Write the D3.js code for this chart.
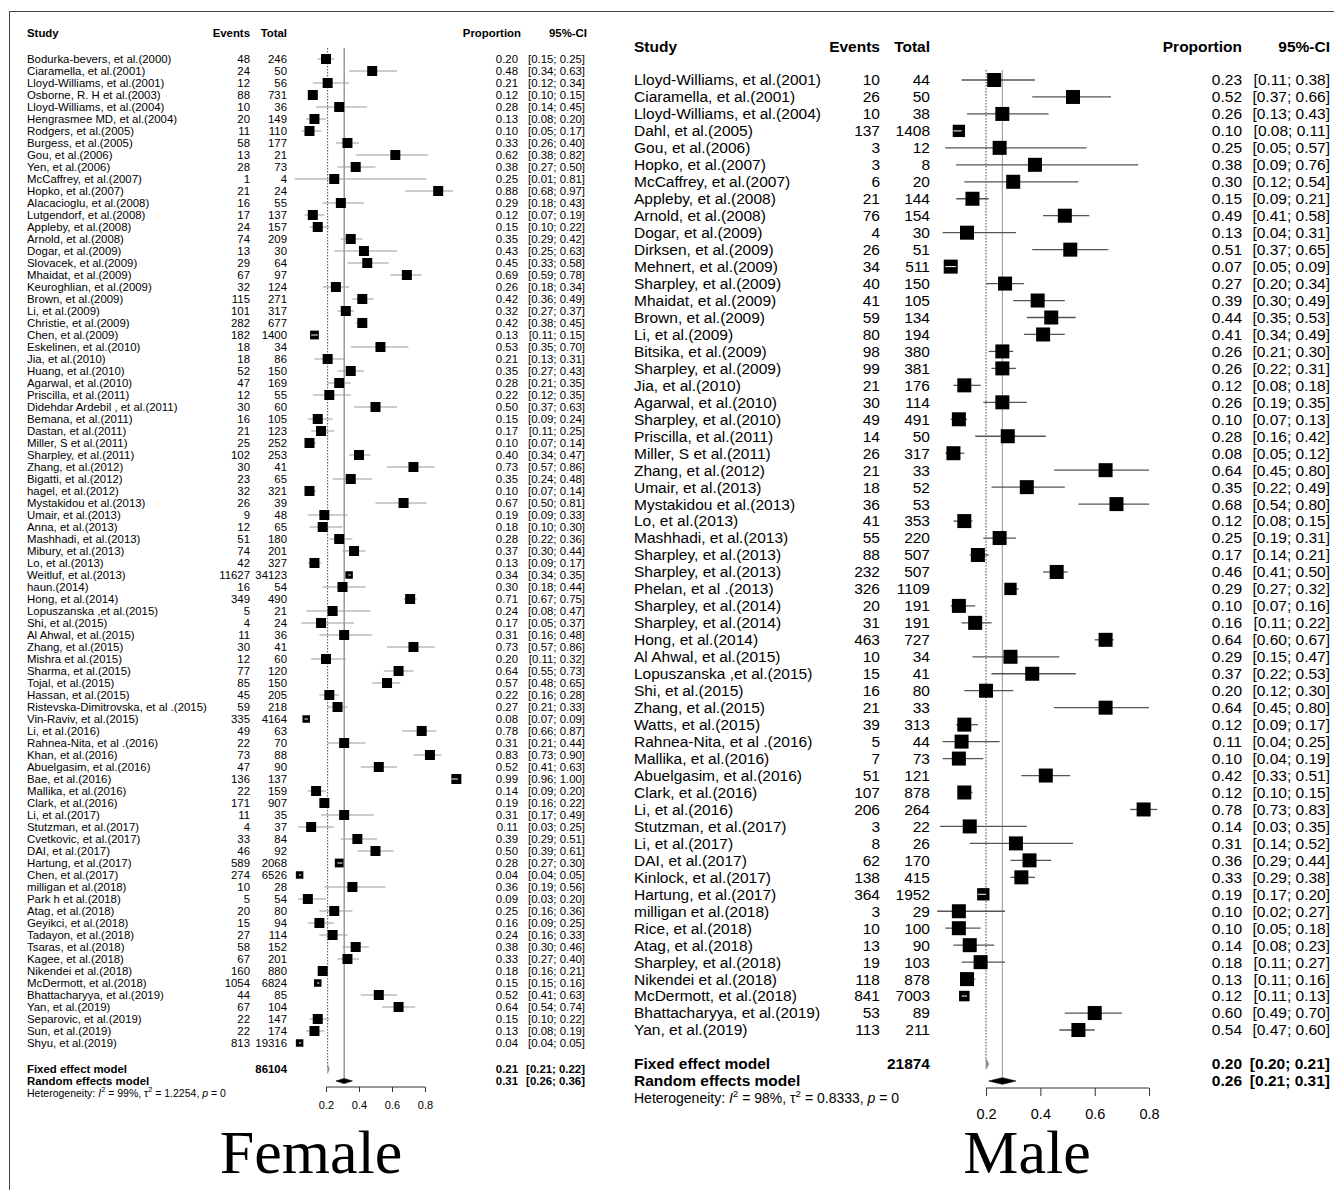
<!DOCTYPE html>
<html>
<head>
<meta charset="utf-8">
<script src="https://cdn.jsdelivr.net/npm/d3@7"></script>
<style>
  html, body { margin: 0; padding: 0; background: #fff; }
  text { font-family: "Liberation Sans", Arial, sans-serif; fill: #000; }
</style>
</head>
<body>
<svg id="chart" width="1334" height="1190"></svg>
<script>
// ---------- data: female ----------
const femaleStudies = [
  "Bodurka-bevers, et al.(2000)", "Ciaramella, et al.(2001)", "Lloyd-Williams, et al.(2001)",
  "Osborne, R. H et al.(2003)", "Lloyd-Williams, et al.(2004)", "Hengrasmee MD, et al.(2004)",
  "Rodgers, et al.(2005)", "Burgess, et al.(2005)", "Gou, et al.(2006)", "Yen, et al.(2006)",
  "McCaffrey, et al.(2007)", "Hopko, et al.(2007)", "Alacacioglu, et al.(2008)",
  "Lutgendorf,  et al.(2008)", "Appleby, et al.(2008)", "Arnold, et al.(2008)", "Dogar, et al.(2009)",
  "Slovacek, et al.(2009)", "Mhaidat, et al.(2009)", "Keuroghlian, et al.(2009)", "Brown, et al.(2009)",
  "Li, et al.(2009)", "Christie, et al.(2009)", "Chen, et al.(2009)", "Eskelinen, et al.(2010)",
  "Jia, et al.(2010)", "Huang, et al.(2010)", "Agarwal, et al.(2010)", "Priscilla, et al.(2011)",
  "Didehdar Ardebil , et al.(2011)", "Bemana, et al.(2011)", "Dastan, et al.(2011)",
  "Miller, S et al.(2011)", "Sharpley, et al.(2011)", "Zhang, et al.(2012)", "Bigatti, et al.(2012)",
  "hagel, et al.(2012)", "Mystakidou et al.(2013)", "Umair, et al.(2013)", "Anna, et al.(2013)",
  "Mashhadi, et al.(2013)", "Mibury, et al.(2013)", "Lo, et al.(2013)", "Weitluf, et al.(2013)",
  "haun.(2014)", "Hong, et al.(2014)", "Lopuszanska ,et al.(2015)", "Shi, et al.(2015)",
  "Al Ahwal, et al.(2015)", "Zhang, et al.(2015)", "Mishra et al.(2015)", "Sharma, et al.(2015)",
  "Tojal, et al.(2015)", "Hassan, et al.(2015)", "Ristevska-Dimitrovska, et al .(2015)",
  "Vin-Raviv, et al.(2015)", "Li, et al.(2016)", "Rahnea-Nita, et al .(2016)", "Khan, et al.(2016)",
  "Abuelgasim, et al.(2016)", "Bae, et al.(2016)", "Mallika, et al.(2016)", "Clark, et al.(2016)",
  "Li, et al.(2017)", "Stutzman, et al.(2017)", "Cvetkovic, et al.(2017)", "DAI, et al.(2017)",
  "Hartung, et al.(2017)", "Chen, et al.(2017)", "milligan et al.(2018)", "Park h et al.(2018)",
  "Atag, et al.(2018)", "Geyikci, et al.(2018)", "Tadayon, et al.(2018)", "Tsaras, et al.(2018)",
  "Kagee, et al.(2018)", "Nikendei et al.(2018)", "McDermott, et al.(2018)",
  "Bhattacharyya, et al.(2019)", "Yan, et al.(2019)", "Separovic, et al.(2019)", "Sun, et al.(2019)",
  "Shyu, et al.(2019)"
];
const femaleEvents = [48, 24, 12, 88, 10, 20, 11, 58, 13, 28, 1, 21, 16, 17, 24, 74, 13, 29, 67, 32,
  115, 101, 282, 182, 18, 18, 52, 47, 12, 30, 16, 21, 25, 102, 30, 23, 32, 26, 9, 12, 51, 74, 42,
  11627, 16, 349, 5, 4, 11, 30, 12, 77, 85, 45, 59, 335, 49, 22, 73, 47, 136, 22, 171, 11, 4, 33,
  46, 589, 274, 10, 5, 20, 15, 27, 58, 67, 160, 1054, 44, 67, 22, 22, 813];
const femaleTotals = [246, 50, 56, 731, 36, 149, 110, 177, 21, 73, 4, 24, 55, 137, 157, 209, 30, 64,
  97, 124, 271, 317, 677, 1400, 34, 86, 150, 169, 55, 60, 105, 123, 252, 253, 41, 65, 321, 39, 48,
  65, 180, 201, 327, 34123, 54, 490, 21, 24, 36, 41, 60, 120, 150, 205, 218, 4164, 63, 70, 88, 90,
  137, 159, 907, 35, 37, 84, 92, 2068, 6526, 28, 54, 80, 94, 114, 152, 201, 880, 6824, 85, 104,
  147, 174, 19316];
const femaleProp = [0.20, 0.48, 0.21, 0.12, 0.28, 0.13, 0.10, 0.33, 0.62, 0.38, 0.25, 0.88, 0.29,
  0.12, 0.15, 0.35, 0.43, 0.45, 0.69, 0.26, 0.42, 0.32, 0.42, 0.13, 0.53, 0.21, 0.35, 0.28, 0.22,
  0.50, 0.15, 0.17, 0.10, 0.40, 0.73, 0.35, 0.10, 0.67, 0.19, 0.18, 0.28, 0.37, 0.13, 0.34, 0.30,
  0.71, 0.24, 0.17, 0.31, 0.73, 0.20, 0.64, 0.57, 0.22, 0.27, 0.08, 0.78, 0.31, 0.83, 0.52, 0.99,
  0.14, 0.19, 0.31, 0.11, 0.39, 0.50, 0.28, 0.04, 0.36, 0.09, 0.25, 0.16, 0.24, 0.38, 0.33, 0.18,
  0.15, 0.52, 0.64, 0.15, 0.13, 0.04];
const femaleLower = [0.15, 0.34, 0.12, 0.10, 0.14, 0.08, 0.05, 0.26, 0.38, 0.27, 0.01, 0.68, 0.18,
  0.07, 0.10, 0.29, 0.25, 0.33, 0.59, 0.18, 0.36, 0.27, 0.38, 0.11, 0.35, 0.13, 0.27, 0.21, 0.12,
  0.37, 0.09, 0.11, 0.07, 0.34, 0.57, 0.24, 0.07, 0.50, 0.09, 0.10, 0.22, 0.30, 0.09, 0.34, 0.18,
  0.67, 0.08, 0.05, 0.16, 0.57, 0.11, 0.55, 0.48, 0.16, 0.21, 0.07, 0.66, 0.21, 0.73, 0.41, 0.96,
  0.09, 0.16, 0.17, 0.03, 0.29, 0.39, 0.27, 0.04, 0.19, 0.03, 0.16, 0.09, 0.16, 0.30, 0.27, 0.16,
  0.15, 0.41, 0.54, 0.10, 0.08, 0.04];
const femaleUpper = [0.25, 0.63, 0.34, 0.15, 0.45, 0.20, 0.17, 0.40, 0.82, 0.50, 0.81, 0.97, 0.43,
  0.19, 0.22, 0.42, 0.63, 0.58, 0.78, 0.34, 0.49, 0.37, 0.45, 0.15, 0.70, 0.31, 0.43, 0.35, 0.35,
  0.63, 0.24, 0.25, 0.14, 0.47, 0.86, 0.48, 0.14, 0.81, 0.33, 0.30, 0.36, 0.44, 0.17, 0.35, 0.44,
  0.75, 0.47, 0.37, 0.48, 0.86, 0.32, 0.73, 0.65, 0.28, 0.33, 0.09, 0.87, 0.44, 0.90, 0.63, 1.00,
  0.20, 0.22, 0.49, 0.25, 0.51, 0.61, 0.30, 0.05, 0.56, 0.20, 0.36, 0.25, 0.33, 0.46, 0.40, 0.21,
  0.16, 0.63, 0.74, 0.22, 0.19, 0.05];
const femaleFixed = [0.21, 0.21, 0.22];
const femaleRandom = [0.31, 0.26, 0.36];
const femaleTotalN = 86104;
const femaleHet = ["99%", "1.2254", "0"];

// ---------- data: male ----------
const maleStudies = [
  "Lloyd-Williams, et al.(2001)", "Ciaramella, et al.(2001)", "Lloyd-Williams, et al.(2004)",
  "Dahl, et al.(2005)", "Gou, et al.(2006)", "Hopko, et al.(2007)", "McCaffrey, et al.(2007)",
  "Appleby, et al.(2008)", "Arnold, et al.(2008)", "Dogar, et al.(2009)", "Dirksen, et al.(2009)",
  "Mehnert, et al.(2009)", "Sharpley, et al.(2009)", "Mhaidat, et al.(2009)", "Brown, et al.(2009)",
  "Li, et al.(2009)", "Bitsika, et al.(2009)", "Sharpley, et al.(2009)", "Jia, et al.(2010)",
  "Agarwal, et al.(2010)", "Sharpley, et al.(2010)", "Priscilla, et al.(2011)", "Miller, S et al.(2011)",
  "Zhang, et al.(2012)", "Umair, et al.(2013)", "Mystakidou et al.(2013)", "Lo, et al.(2013)",
  "Mashhadi, et al.(2013)", "Sharpley, et al.(2013)", "Sharpley, et al.(2013)", "Phelan, et al .(2013)",
  "Sharpley, et al.(2014)", "Sharpley, et al.(2014)", "Hong, et al.(2014)", "Al Ahwal, et al.(2015)",
  "Lopuszanska ,et al.(2015)", "Shi, et al.(2015)", "Zhang, et al.(2015)", "Watts, et al.(2015)",
  "Rahnea-Nita, et al .(2016)", "Mallika, et al.(2016)", "Abuelgasim, et al.(2016)", "Clark, et al.(2016)",
  "Li, et al.(2016)", "Stutzman, et al.(2017)", "Li, et al.(2017)", "DAI, et al.(2017)",
  "Kinlock, et al.(2017)", "Hartung, et al.(2017)", "milligan et al.(2018)", "Rice, et al.(2018)",
  "Atag, et al.(2018)", "Sharpley, et al.(2018)", "Nikendei et al.(2018)", "McDermott, et al.(2018)",
  "Bhattacharyya, et al.(2019)", "Yan, et al.(2019)"
];
const maleEvents = [10, 26, 10, 137, 3, 3, 6, 21, 76, 4, 26, 34, 40, 41, 59, 80, 98, 99, 21, 30, 49,
  14, 26, 21, 18, 36, 41, 55, 88, 232, 326, 20, 31, 463, 10, 15, 16, 21, 39, 5, 7, 51, 107, 206, 3,
  8, 62, 138, 364, 3, 10, 13, 19, 118, 841, 53, 113];
const maleTotals = [44, 50, 38, 1408, 12, 8, 20, 144, 154, 30, 51, 511, 150, 105, 134, 194, 380, 381,
  176, 114, 491, 50, 317, 33, 52, 53, 353, 220, 507, 507, 1109, 191, 191, 727, 34, 41, 80, 33, 313,
  44, 73, 121, 878, 264, 22, 26, 170, 415, 1952, 29, 100, 90, 103, 878, 7003, 89, 211];
const maleProp = [0.23, 0.52, 0.26, 0.10, 0.25, 0.38, 0.30, 0.15, 0.49, 0.13, 0.51, 0.07, 0.27, 0.39,
  0.44, 0.41, 0.26, 0.26, 0.12, 0.26, 0.10, 0.28, 0.08, 0.64, 0.35, 0.68, 0.12, 0.25, 0.17, 0.46,
  0.29, 0.10, 0.16, 0.64, 0.29, 0.37, 0.20, 0.64, 0.12, 0.11, 0.10, 0.42, 0.12, 0.78, 0.14, 0.31,
  0.36, 0.33, 0.19, 0.10, 0.10, 0.14, 0.18, 0.13, 0.12, 0.60, 0.54];
const maleLower = [0.11, 0.37, 0.13, 0.08, 0.05, 0.09, 0.12, 0.09, 0.41, 0.04, 0.37, 0.05, 0.20, 0.30,
  0.35, 0.34, 0.21, 0.22, 0.08, 0.19, 0.07, 0.16, 0.05, 0.45, 0.22, 0.54, 0.08, 0.19, 0.14, 0.41,
  0.27, 0.07, 0.11, 0.60, 0.15, 0.22, 0.12, 0.45, 0.09, 0.04, 0.04, 0.33, 0.10, 0.73, 0.03, 0.14,
  0.29, 0.29, 0.17, 0.02, 0.05, 0.08, 0.11, 0.11, 0.11, 0.49, 0.47];
const maleUpper = [0.38, 0.66, 0.43, 0.11, 0.57, 0.76, 0.54, 0.21, 0.58, 0.31, 0.65, 0.09, 0.34, 0.49,
  0.53, 0.49, 0.30, 0.31, 0.18, 0.35, 0.13, 0.42, 0.12, 0.80, 0.49, 0.80, 0.15, 0.31, 0.21, 0.50,
  0.32, 0.16, 0.22, 0.67, 0.47, 0.53, 0.30, 0.80, 0.17, 0.25, 0.19, 0.51, 0.15, 0.83, 0.35, 0.52,
  0.44, 0.38, 0.20, 0.27, 0.18, 0.23, 0.27, 0.16, 0.13, 0.70, 0.60];
const maleFixed = [0.20, 0.20, 0.21];
const maleRandom = [0.26, 0.21, 0.31];
const maleTotalN = 21874;
const maleHet = ["98%", "0.8333", "0"];

const axisTicks = [0.2, 0.4, 0.6, 0.8];
const headers = ["Study", "Events", "Total", "Proportion", "95%-CI"];

// ---------- drawing ----------
const svg = d3.select("#chart");
const f2 = d3.format(".2f");
const ci = (lo, hi) => `[${f2(lo)}; ${f2(hi)}]`;

svg.append("rect")
  .attr("x", 9.5).attr("y", 11.5)
  .attr("width", 1400).attr("height", 1300)
  .attr("fill", "none").attr("stroke", "#444").attr("stroke-width", 1);

function panel(layout, studies, events, totals, prop, lower, upper, fixed, random, totalN, het) {
  const g = svg.append("g");
  const L = layout;
  const x = d3.scaleLinear().domain([0, 1]).range(L.range);
  const y = d3.scalePoint().domain(d3.range(studies.length)).range([L.yFirst, L.yLast]);

  const txt = (sel) => sel.attr("font-size", L.font).attr("dy", "0.35em");

  // header
  const hx = [L.xName, L.xEvents, L.xTotal, L.xPropHead, L.xCIHead];
  g.selectAll("text.head").data(headers).join("text")
    .attr("class", "head")
    .attr("x", (d, i) => hx[i]).attr("y", L.yHead)
    .attr("text-anchor", (d, i) => i === 0 ? "start" : "end")
    .attr("font-weight", "bold")
    .call(txt).text(d => d);

  // reference lines
  g.append("line")
    .attr("x1", x(fixed[0])).attr("x2", x(fixed[0]))
    .attr("y1", L.lineTop).attr("y2", L.yFixed - L.dh)
    .attr("stroke", "#333").attr("stroke-width", 0.9)
    .attr("stroke-dasharray", "1.5,1.5");
  g.append("line")
    .attr("x1", x(random[0])).attr("x2", x(random[0]))
    .attr("y1", L.lineTop).attr("y2", L.yRandom - L.dh)
    .attr("stroke", L.refColor).attr("stroke-width", 0.9);

  const rows = d3.range(studies.length);
  const sqScale = (i) => totals[i] >= 4000 ? 0.75 : totals[i] >= 1000 ? 0.88 : 1;

  // CI lines
  g.selectAll("line.ci").data(rows).join("line")
    .attr("class", "ci")
    .attr("x1", i => x(lower[i])).attr("x2", i => x(upper[i]))
    .attr("y1", i => y(i)).attr("y2", i => y(i))
    .attr("stroke", L.ciColor).attr("stroke-width", L.ciWidth);

  // squares
  g.selectAll("rect.sq").data(rows).join("rect")
    .attr("class", "sq")
    .attr("x", i => x(prop[i]) - L.sqW * sqScale(i) / 2)
    .attr("y", i => y(i) - L.sqH * sqScale(i) / 2)
    .attr("width", i => L.sqW * sqScale(i))
    .attr("height", i => L.sqH * sqScale(i))
    .attr("fill", "#000");

  // white CI inside square when narrower than the box
  const inside = rows.filter(i => x(upper[i]) - x(lower[i]) < L.sqW * sqScale(i) - 2);
  g.selectAll("line.wci").data(inside).join("line")
    .attr("class", "wci")
    .attr("x1", i => Math.min(x(lower[i]), x(prop[i]) - 0.7))
    .attr("x2", i => Math.max(x(upper[i]), x(prop[i]) + 0.7))
    .attr("y1", i => y(i)).attr("y2", i => y(i))
    .attr("stroke", "#fff").attr("stroke-width", 1);

  // study text columns
  g.selectAll("text.name").data(rows).join("text")
    .attr("class", "name").attr("x", L.xName).attr("y", i => y(i))
    .call(txt).text(i => studies[i]);
  g.selectAll("text.ev").data(rows).join("text")
    .attr("class", "ev").attr("x", L.xEvents).attr("y", i => y(i))
    .attr("text-anchor", "end").call(txt).text(i => events[i]);
  g.selectAll("text.tot").data(rows).join("text")
    .attr("class", "tot").attr("x", L.xTotal).attr("y", i => y(i))
    .attr("text-anchor", "end").call(txt).text(i => totals[i]);
  g.selectAll("text.pr").data(rows).join("text")
    .attr("class", "pr").attr("x", L.xProp).attr("y", i => y(i))
    .attr("text-anchor", "end").call(txt).text(i => f2(prop[i]));
  g.selectAll("text.cil").data(rows).join("text")
    .attr("class", "cil").attr("x", L.xCI).attr("y", i => y(i))
    .attr("text-anchor", "end").call(txt).text(i => ci(lower[i], upper[i]));

  // pooled models
  const models = [
    { name: "Fixed effect model", est: fixed, yy: L.yFixed, n: totalN, fill: "#888" },
    { name: "Random effects model", est: random, yy: L.yRandom, n: "", fill: "#000" }
  ];
  models.forEach(m => {
    g.append("text").attr("x", L.xName).attr("y", m.yy).attr("font-weight", "bold")
      .call(txt).text(m.name);
    g.append("text").attr("x", L.xTotal).attr("y", m.yy).attr("font-weight", "bold")
      .attr("text-anchor", "end").call(txt).text(m.n);
    g.append("text").attr("x", L.xProp).attr("y", m.yy).attr("font-weight", "bold")
      .attr("text-anchor", "end").call(txt).text(f2(m.est[0]));
    g.append("text").attr("x", L.xCI).attr("y", m.yy).attr("font-weight", "bold")
      .attr("text-anchor", "end").call(txt).text(ci(m.est[1], m.est[2]));
    const dh = m === models[0] ? L.dh * 1.6 : L.dh;
    const pts = [[x(m.est[1]), m.yy], [x(m.est[0]), m.yy - dh], [x(m.est[2]), m.yy], [x(m.est[0]), m.yy + dh]];
    g.append("polygon").attr("points", pts.map(p => p.join(",")).join(" "))
      .attr("fill", m.fill).attr("stroke", m.fill).attr("stroke-width", 0.6);
  });

  // heterogeneity
  const ht = g.append("text").attr("x", L.xName).attr("y", L.yHet)
    .attr("font-size", L.hetFont).attr("dy", "0.35em");
  ht.append("tspan").text("Heterogeneity: ");
  ht.append("tspan").attr("font-style", "italic").text("I");
  ht.append("tspan").attr("font-size", L.hetFont * 0.7).attr("dy", -L.hetFont * 0.4).text("2");
  ht.append("tspan").attr("dy", L.hetFont * 0.4).text(` = ${het[0]}, \u03c4`);
  ht.append("tspan").attr("font-size", L.hetFont * 0.7).attr("dy", -L.hetFont * 0.4).text("2");
  ht.append("tspan").attr("dy", L.hetFont * 0.4).text(` = ${het[1]}, `);
  ht.append("tspan").attr("font-style", "italic").text("p");
  ht.append("tspan").text(` = ${het[2]}`);

  // axis
  const ax = g.append("g").attr("transform", `translate(0,${L.yAxis})`)
    .call(d3.axisBottom(x).tickValues(axisTicks).tickSize(L.tick).tickFormat(d3.format(".1f")));
  ax.select(".domain").attr("d", `M${x(axisTicks[0])},0H${x(axisTicks[axisTicks.length - 1])}`)
    .attr("stroke", "#333");
  ax.selectAll(".tick line").attr("stroke", "#333");
  ax.selectAll(".tick text").attr("font-size", L.axisFont)
    .attr("font-family", "Liberation Sans, Arial, sans-serif")
    .attr("y", L.axisLabelY - L.yAxis).attr("dy", "0.35em");

  // panel label
  g.append("text").attr("x", L.labelX).attr("y", 1173)
    .attr("text-anchor", "middle")
    .style("font-family", "'Liberation Serif', 'Times New Roman', serif")
    .attr("font-size", 62).text(L.label);
}

panel({
  font: 11.4, hetFont: 10.5, axisFont: 11,
  xName: 27, xEvents: 250, xTotal: 287, xProp: 518, xCI: 585, xPropHead: 521, xCIHead: 587,
  yHead: 33, yFirst: 59, yLast: 1043, yFixed: 1069, yRandom: 1081, yHet: 1093,
  yAxis: 1087, axisLabelY: 1105, tick: 5,
  range: [293, 458], sqW: 10, sqH: 10, ciColor: "#9a9a9a", ciWidth: 1,
  refColor: "#555", lineTop: 48, dh: 2.6, label: "Female", labelX: 311
}, femaleStudies, femaleEvents, femaleTotals, femaleProp, femaleLower, femaleUpper,
   femaleFixed, femaleRandom, femaleTotalN, femaleHet);

panel({
  font: 15.5, hetFont: 14, axisFont: 14.5,
  xName: 634, xEvents: 880, xTotal: 930, xProp: 1242, xCI: 1330, xPropHead: 1242, xCIHead: 1330,
  yHead: 46.5, yFirst: 80, yLast: 1030, yFixed: 1064, yRandom: 1081, yHet: 1098,
  yAxis: 1088, axisLabelY: 1114, tick: 8,
  range: [931.7, 1203.4], sqW: 14, sqH: 14, ciColor: "#555", ciWidth: 1.3,
  refColor: "#888", lineTop: 70, dh: 3.3, label: "Male", labelX: 1027
}, maleStudies, maleEvents, maleTotals, maleProp, maleLower, maleUpper,
   maleFixed, maleRandom, maleTotalN, maleHet);
</script>
</body>
</html>
